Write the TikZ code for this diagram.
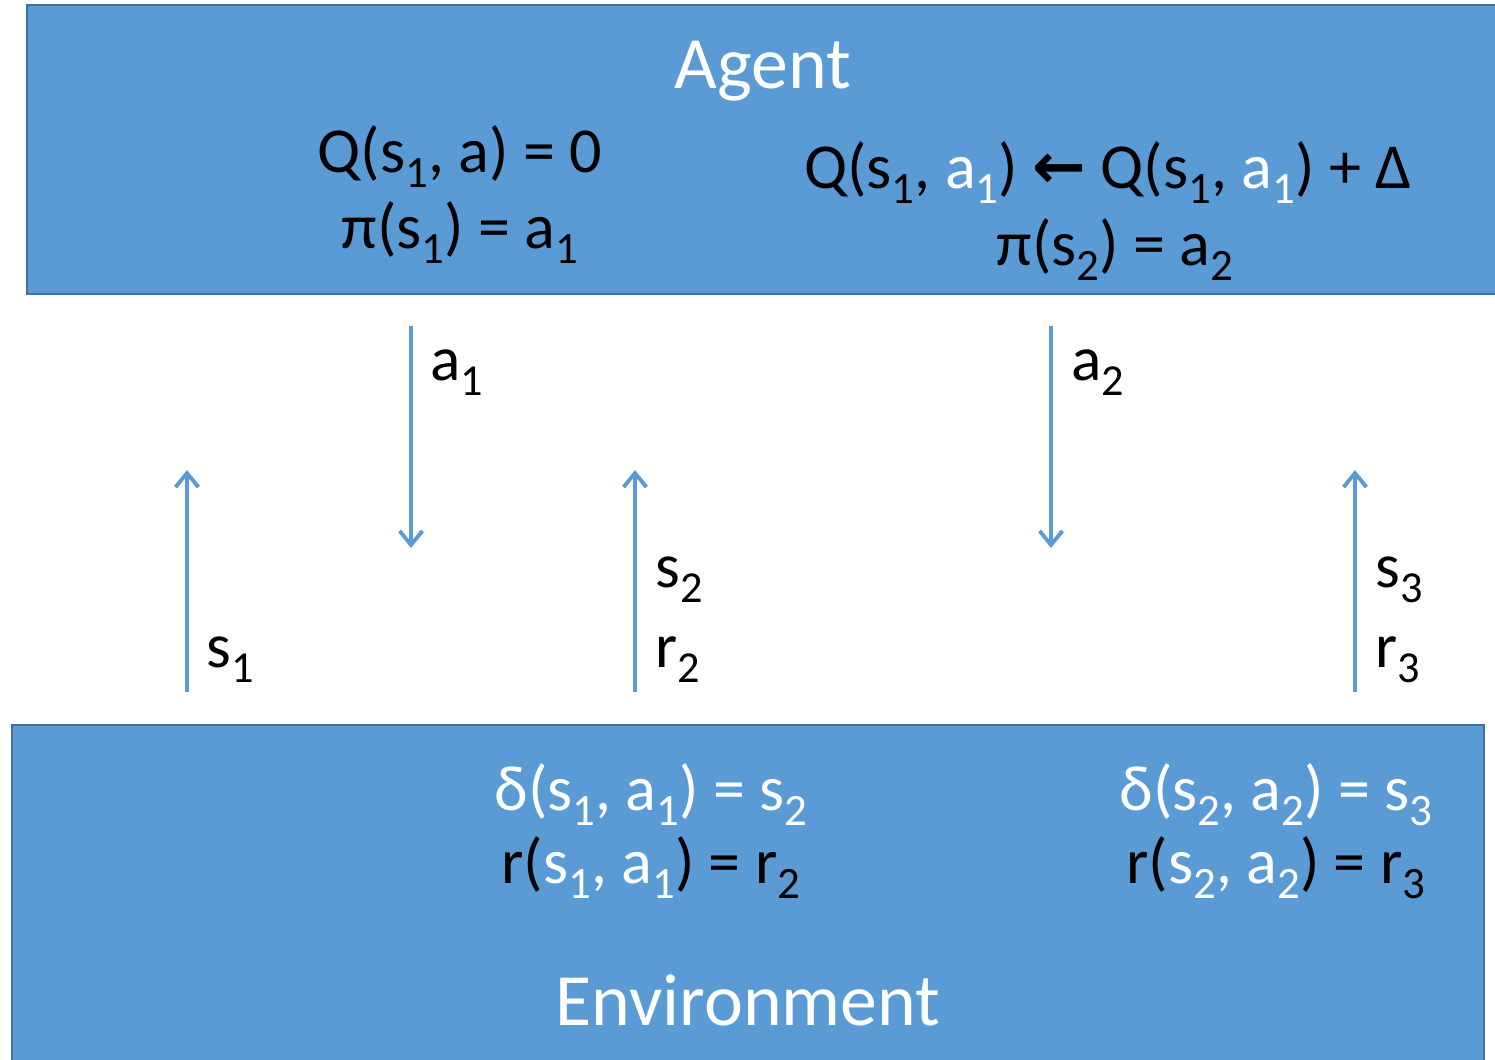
\documentclass[tikz,border=0pt]{standalone}
\usepackage{fontspec}
\setmainfont{Carlito}
\newfontfamily\arrowfont{DejaVu Sans}
\usetikzlibrary{arrows.meta, positioning}
\definecolor{officeblue}{RGB}{91,155,213}
\definecolor{edgeblue}{RGB}{65,113,156}
\newcommand{\lo}[1]{\raisebox{-0.24em}{\scalebox{0.7}{#1}}}
\newcommand{\wt}[1]{\textcolor{white}{#1}}

\begin{document}
\begin{tikzpicture}[x=0.02cm, y=-0.02cm,
  panel/.style={draw=edgeblue, line width=1.2pt, fill=officeblue, inner sep=0pt},
  title/.style={font=\fontsize{42}{46}\selectfont, text=white, anchor=base},
  eqn/.style={font=\fontsize{36.5}{42}\selectfont, anchor=base, inner sep=0pt},
  lbl/.style={font=\fontsize{36}{42}\selectfont, anchor=base west, inner sep=0pt},
  flow/.style={officeblue, line width=2.2pt,
    -{Straight Barb[length=8pt, width=13pt, line width=2.2pt]}}]
  \useasboundingbox (0,0) rectangle (1495,1059);

  % agent and environment
  \node[panel, minimum width=29.66cm, minimum height=5.78cm] (agent) at (768.5,149.5) {};
  \node[panel, minimum width=29.44cm, minimum height=7cm] (env) at (748,900) {};
  \node[title] (agenttitle) at (763,88) {Agent};
  \node[title] (envtitle) at (748,1025) {Environment};

  % agent side
  \node[eqn] (q1) at (460,172) {Q(s\lo{1}, a) = 0};
  \node[eqn] (pi1) at (460,248) {π(s\lo{1}) = a\lo{1}};
  \node[eqn] (q2) at (1108,188) {Q(s\lo{1}, \wt{a\lo{1}}) {\arrowfont\bfseries ←} Q(s\lo{1}, \wt{a\lo{1}}) + Δ};
  \node[eqn] (pi2) at (1115,265) {π(s\lo{2}) = a\lo{2}};

  % environment side
  \node[eqn, text=white] (d1) at (651,810) {δ(s\lo{1}, a\lo{1}) = s\lo{2}};
  \node[eqn] (r1) at (651,883) {r(\wt{s\lo{1}, a\lo{1}}) = r\lo{2}};
  \node[eqn, text=white] (d2) at (1276,810) {δ(s\lo{2}, a\lo{2}) = s\lo{3}};
  \node[eqn] (r2) at (1276,883) {r(\wt{s\lo{2}, a\lo{2}}) = r\lo{3}};

  % arrow ends
  \coordinate (s1from) at (187,692);
  \coordinate (s1to) at (187,470);
  \coordinate (a1from) at (411,326);
  \coordinate (a1to) at (411,548);
  \coordinate (s2from) at (635,692);
  \coordinate (s2to) at (635,470);
  \coordinate (a2from) at (1051,326);
  \coordinate (a2to) at (1051,548);
  \coordinate (s3from) at (1355,692);
  \coordinate (s3to) at (1355,470);

  \draw[flow] (s1from) -- (s1to);
  \draw[flow] (a1from) -- (a1to);
  \draw[flow] (s2from) -- (s2to);
  \draw[flow] (a2from) -- (a2to);
  \draw[flow] (s3from) -- (s3to);

  % labels
  \node[lbl] (s1lbl) at (206,667) {s\lo{1}};
  \node[lbl] (a1lbl) at (430,380) {a\lo{1}};
  \node[lbl] (s2lbl) at (655,587) {s\lo{2}};
  \node[lbl] (r2lbl) at (655,667) {r\lo{2}};
  \node[lbl] (a2lbl) at (1071,380) {a\lo{2}};
  \node[lbl] (s3lbl) at (1375,587) {s\lo{3}};
  \node[lbl] (r3lbl) at (1375,667) {r\lo{3}};
\end{tikzpicture}
\end{document}
